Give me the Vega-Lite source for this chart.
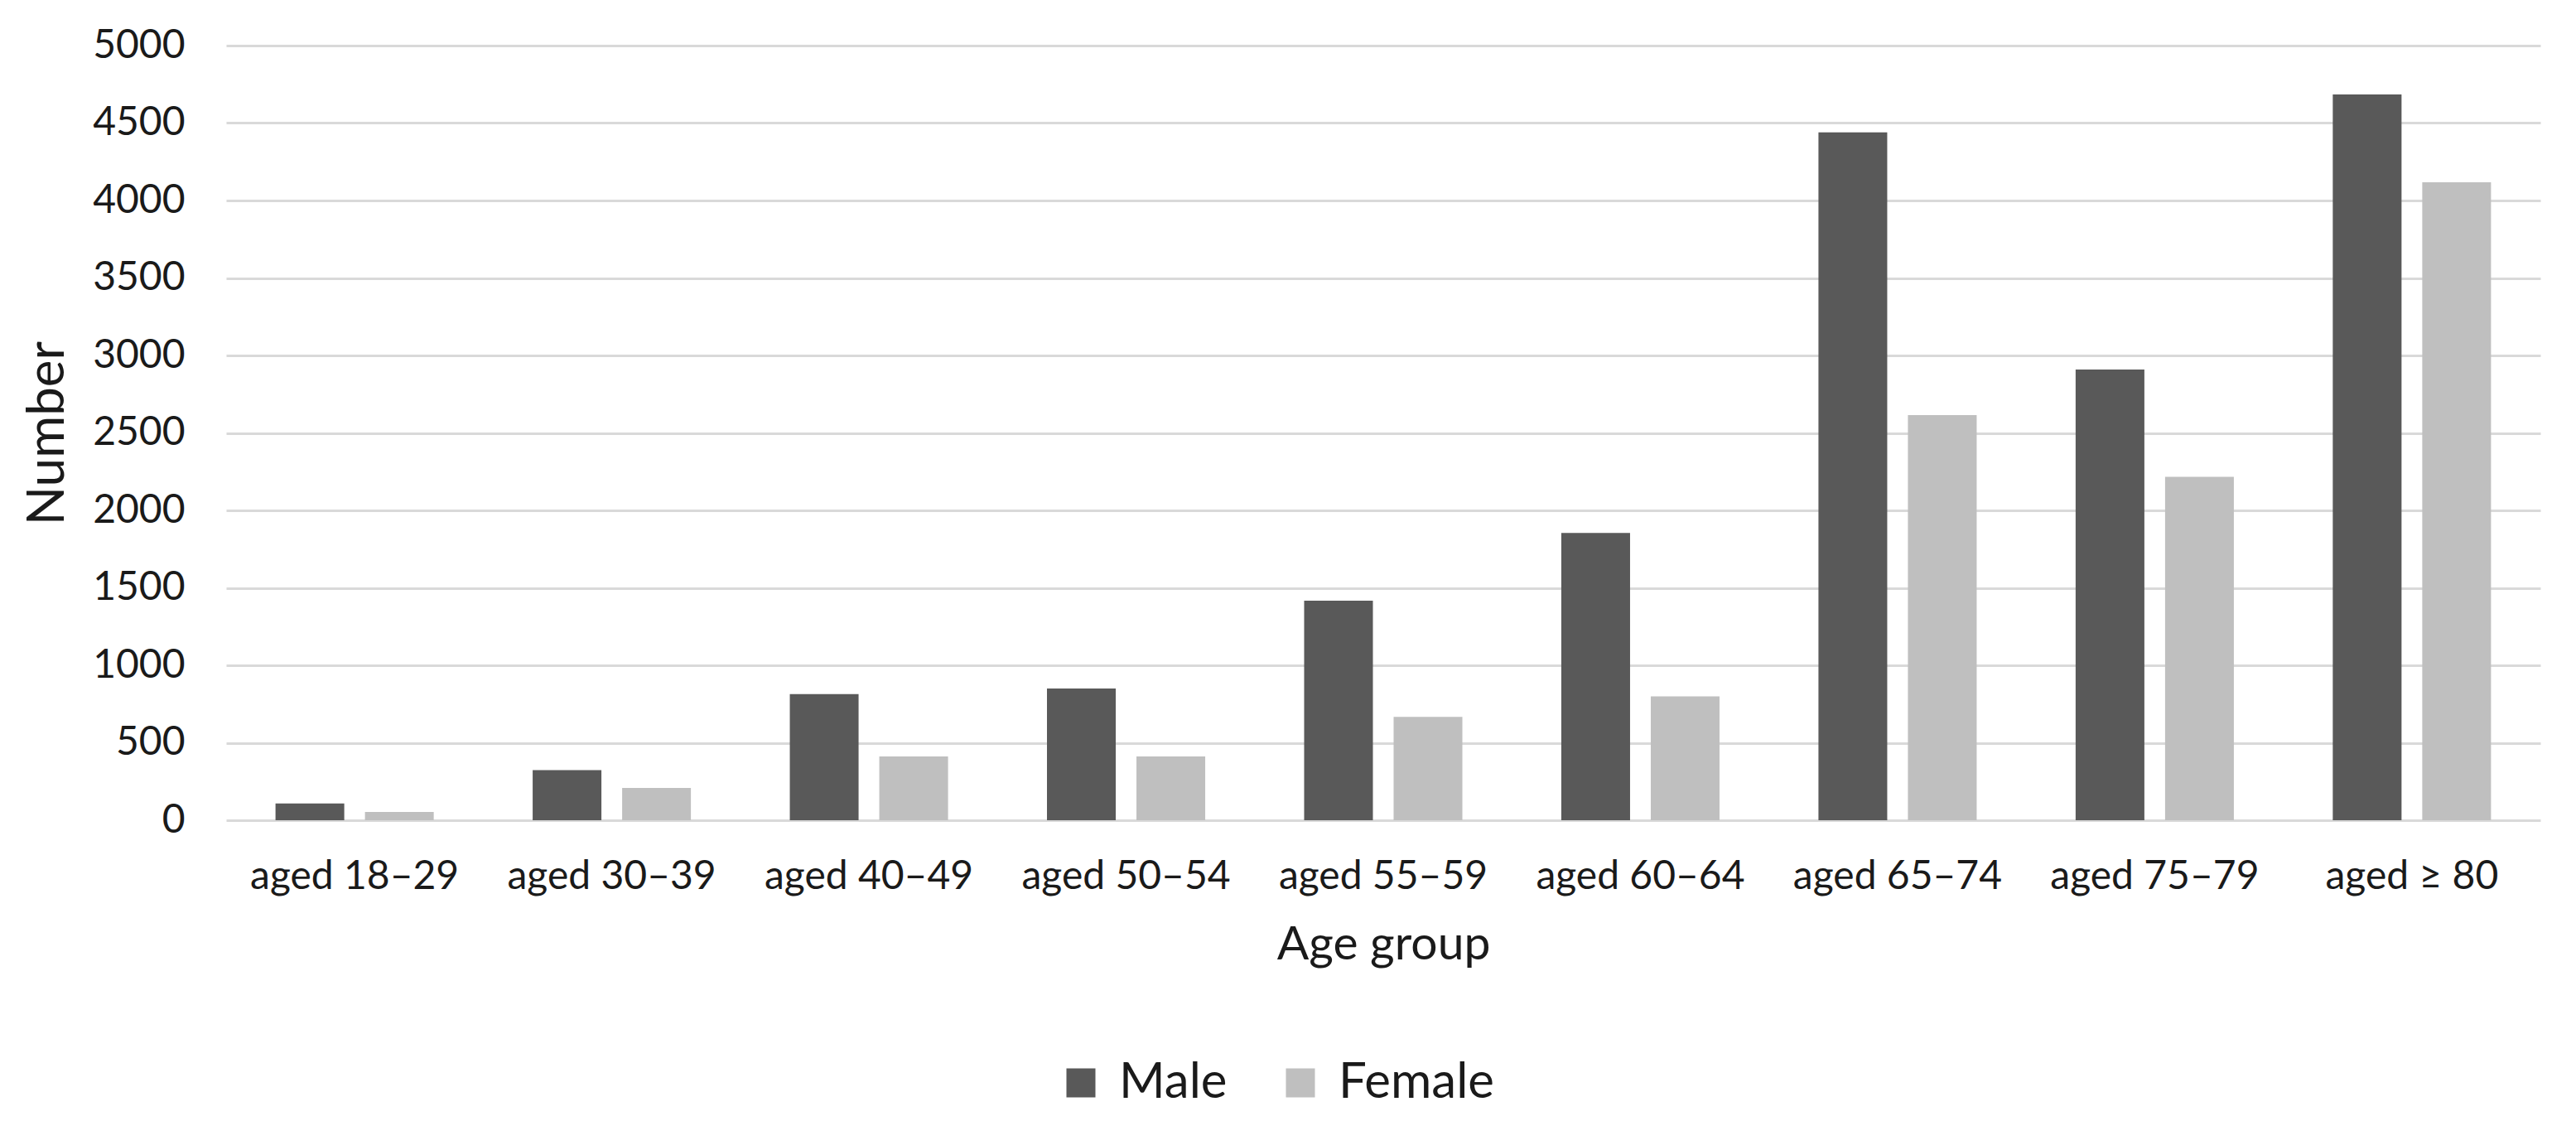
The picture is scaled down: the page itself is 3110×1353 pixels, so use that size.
{
  "$schema": "https://vega.github.io/schema/vega-lite/v6.json",
  "autosize": {"type": "none"},
  "width": 2794,
  "height": 935,
  "padding": {"left": 273, "top": 55, "right": 43, "bottom": 363},
  "background": "white",
  "config": {
    "view": {"stroke": null},
    "font": "Lato",
    "axis": {"labelFont": "Lato", "titleFont": "Lato", "labelColor": "#1a1a1a", "titleColor": "#1a1a1a", "titleFontWeight": "normal", "labelLimit": 0},
    "legend": {"labelFont": "Lato", "labelColor": "#1a1a1a", "labelLimit": 0}
  },
  "data": {
    "values": [
      {"age": "aged 18–29", "sex": "Male", "number": 108},
      {"age": "aged 18–29", "sex": "Female", "number": 54},
      {"age": "aged 30–39", "sex": "Male", "number": 323},
      {"age": "aged 30–39", "sex": "Female", "number": 208},
      {"age": "aged 40–49", "sex": "Male", "number": 814},
      {"age": "aged 40–49", "sex": "Female", "number": 412},
      {"age": "aged 50–54", "sex": "Male", "number": 850},
      {"age": "aged 50–54", "sex": "Female", "number": 412},
      {"age": "aged 55–59", "sex": "Male", "number": 1417},
      {"age": "aged 55–59", "sex": "Female", "number": 667},
      {"age": "aged 60–64", "sex": "Male", "number": 1854},
      {"age": "aged 60–64", "sex": "Female", "number": 800},
      {"age": "aged 65–74", "sex": "Male", "number": 4440},
      {"age": "aged 65–74", "sex": "Female", "number": 2615},
      {"age": "aged 75–79", "sex": "Male", "number": 2909},
      {"age": "aged 75–79", "sex": "Female", "number": 2217},
      {"age": "aged ≥ 80", "sex": "Male", "number": 4684},
      {"age": "aged ≥ 80", "sex": "Female", "number": 4118}
    ]
  },
  "mark": {"type": "bar"},
  "encoding": {
    "x": {
      "field": "age", "type": "nominal", "sort": null,
      "scale": {"paddingInner": 0.3847, "paddingOuter": 0.192},
      "axis": {
        "title": "Age group", "titleFontSize": 57, "titlePadding": 30,
        "labelFontSize": 48, "labelAngle": 0, "labelPadding": 44,
        "ticks": false, "domain": false, "grid": false
      }
    },
    "xOffset": {
      "field": "sex", "type": "nominal", "sort": ["Male", "Female"],
      "scale": {"paddingInner": 0.2315, "paddingOuter": 0}
    },
    "y": {
      "field": "number", "type": "quantitative",
      "scale": {"domain": [0, 5000], "nice": false},
      "axis": {
        "title": "Number", "titleFontSize": 62, "titlePadding": 22,
        "values": [0, 500, 1000, 1500, 2000, 2500, 3000, 3500, 4000, 4500, 5000],
        "format": "d", "labelFontSize": 48, "labelPadding": 50,
        "ticks": false, "domain": false,
        "grid": true, "gridColor": "#d9d9d9", "gridWidth": 3
      }
    },
    "color": {
      "field": "sex", "type": "nominal",
      "scale": {"domain": ["Male", "Female"], "range": ["#595959", "#bfbfbf"]},
      "legend": {
        "title": null, "orient": "none", "direction": "horizontal",
        "legendX": 1002, "legendY": 1222,
        "symbolType": "square", "symbolSize": 1225, "symbolStrokeWidth": 0,
        "labelFontSize": 60, "labelOffset": 16, "columnPadding": 58
      }
    }
  }
}
